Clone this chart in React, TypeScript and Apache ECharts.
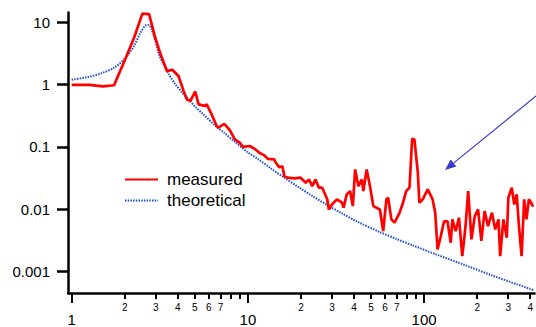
import React, { useEffect, useRef } from "react";
import * as echarts from "echarts";

// measured response: [frequency, amplitude]
const measured: [number, number][] = [
  [1.0, 0.98], [1.26, 0.98], [1.5, 0.93], [1.74, 0.97], [2.03, 2.68], [2.26, 5.6],
  [2.52, 13.6], [2.75, 13.4], [2.98, 5.6], [3.13, 3.64], [3.25, 2.68], [3.48, 1.63],
  [3.72, 1.72], [4.04, 1.36], [4.32, 0.78], [4.51, 0.575], [4.71, 0.54], [5.03, 0.77],
  [5.25, 0.478], [5.67, 0.452], [5.84, 0.478], [6.23, 0.33], [6.65, 0.215], [6.8, 0.202],
  [7.25, 0.229], [7.4, 0.229], [7.91, 0.183], [8.43, 0.131], [9.0, 0.116], [9.39, 0.1],
  [10.23, 0.103], [10.9, 0.093], [11.65, 0.08], [12.4, 0.073], [12.97, 0.064], [14.1, 0.063],
  [14.4, 0.0556], [15.1, 0.0468], [15.7, 0.049], [16.1, 0.0339], [16.8, 0.032], [18.3, 0.0312],
  [19.9, 0.032], [21.3, 0.0266], [22.2, 0.03], [23.2, 0.0234], [24.2, 0.03], [25.3, 0.0221],
  [26.4, 0.0221], [28.2, 0.0144], [28.8, 0.0099], [30.0, 0.0119], [32.0, 0.0144], [34.2, 0.0127],
  [34.9, 0.0106], [36.4, 0.0173], [38.0, 0.0195], [39.4, 0.0112], [40.6, 0.0434], [42.4, 0.0234],
  [44.3, 0.03], [45.2, 0.0195], [47.2, 0.0434], [49.3, 0.0234], [51.5, 0.0112], [56.1, 0.0099],
  [58.6, 0.00446], [61.1, 0.0144], [62.5, 0.0153], [65.2, 0.00687], [68.0, 0.0061], [72.6, 0.0088],
  [75.9, 0.0127], [79.1, 0.0195], [82.6, 0.0221], [85.5, 0.134], [88.1, 0.131], [92.1, 0.0385],
  [94.0, 0.0127], [98.2, 0.0144], [104.8, 0.0208], [111.7, 0.0144], [115.6, 0.0088], [119.2, 0.00227],
  [124.4, 0.0037], [129.8, 0.0064], [135.7, 0.0064], [141.6, 0.0029], [144.6, 0.00687], [151.0, 0.00446],
  [157.6, 0.0073], [164.7, 0.00177], [171.8, 0.00536], [177.9, 0.0195], [185.6, 0.00328], [193.8, 0.00776],
  [202.4, 0.0099], [211.2, 0.0031], [220.4, 0.0093], [230.4, 0.00536], [242.6, 0.0088], [253.3, 0.00475],
  [264.3, 0.00687], [270.1, 0.00177], [281.9, 0.00687], [294.5, 0.0035], [300.6, 0.0153], [314.2, 0.0221],
  [324.9, 0.0119], [335.2, 0.0173], [345.3, 0.00536], [357.4, 0.00177], [369.6, 0.0144], [381.0, 0.0069],
  [392.8, 0.0144], [403.3, 0.013], [415.0, 0.011],
];

// theoretical response: [frequency, amplitude]
const theoretical: [number, number][] = [
  [1.0, 1.19], [1.235, 1.309], [1.466, 1.5], [1.743, 1.852], [2.025, 2.68], [2.257, 4.11],
  [2.458, 6.74], [2.63, 8.82], [2.733, 8.98], [2.841, 7.61], [2.991, 4.89], [3.13, 3.03],
  [3.296, 2.17], [3.562, 1.446], [3.848, 1.04], [4.23, 0.744], [4.612, 0.575], [5.03, 0.436],
  [5.598, 0.33], [6.512, 0.22], [7.41, 0.164], [8.43, 0.1198], [10.0, 0.0813], [11.39, 0.064],
  [13.48, 0.0451], [16.09, 0.032], [19.1, 0.0232], [23.2, 0.0163], [28.15, 0.0117], [34.2, 0.00856],
  [41.5, 0.00637], [56.1, 0.0043], [69.6, 0.00334], [86.3, 0.00263], [116.7, 0.00189], [171.8, 0.00126],
  [242.6, 0.00087], [398.0, 0.00053], [423.0, 0.0005],
];

const yTicks = [0.001, 0.01, 0.1, 1, 10];
const xMajorTicks = [1, 10, 100];
const xMinorTicks = [2, 3, 4, 5, 6, 7, 8, 9, 20, 30, 40, 50, 60, 70, 80, 90, 200, 300, 400];
const xMinorLabels = [2, 3, 4, 5, 6, 7, 20, 30, 40, 50, 60, 70, 200, 300, 400];
const seriesNames = ["measured", "theoretical"];

const FONT = "'Liberation Sans', Arial, sans-serif";
const X_MIN = 0.9534;
const X_MAX = 423.2;
const Y_MIN = 0.000454;
const Y_MAX = 14.2;

export default function App() {
  const ref = useRef<HTMLDivElement>(null);
  useEffect(() => {
    if (!ref.current) return;
    const chart = echarts.init(ref.current, null, { renderer: "svg" });
    const minorFmt = (v: number) => {
      if (v < 10) return String(Math.round(v));
      if (v < 100) return String(Math.round(v / 10));
      return String(Math.round(v / 100));
    };
    chart.setOption({
      animation: false,
      backgroundColor: "#fff",
      textStyle: { fontFamily: FONT },
      grid: { left: 68, right: -4, top: 12.5, bottom: 34, containLabel: false },
      legend: {
        data: seriesNames,
        orient: "vertical",
        left: 124,
        top: 171,
        itemWidth: 33,
        itemHeight: 12,
        itemGap: 4,
        padding: 0,
        itemStyle: { opacity: 0 },
        textStyle: { fontSize: 17, color: "#000", fontFamily: FONT, padding: [0, 0, 0, 4] },
      },
      xAxis: [
        {
          type: "log",
          logBase: 10,
          min: X_MIN,
          max: X_MAX,
          axisLine: { show: true, lineStyle: { color: "#000", width: 2.5 } },
          axisTick: { show: true, customValues: xMajorTicks, length: 10, lineStyle: { color: "#000", width: 2 } },
          axisLabel: {
            customValues: xMajorTicks,
            fontSize: 15,
            color: "#000",
            margin: 19,
            fontFamily: FONT,
            formatter: (v: number) => String(Math.round(v)),
          },
          splitLine: { show: false },
          minorTick: { show: false },
        },
        {
          type: "log",
          logBase: 10,
          min: X_MIN,
          max: X_MAX,
          position: "bottom",
          axisLine: { show: false },
          axisTick: { show: true, customValues: xMinorTicks, length: 6, lineStyle: { color: "#000", width: 2 } },
          axisLabel: {
            customValues: xMinorLabels,
            fontSize: 10,
            color: "#000",
            margin: 9,
            hideOverlap: false,
            fontFamily: FONT,
            formatter: minorFmt,
          },
          splitLine: { show: false },
        },
      ],
      yAxis: {
        type: "log",
        logBase: 10,
        min: Y_MIN,
        max: Y_MAX,
        axisLine: { show: true, lineStyle: { color: "#000", width: 2.5 } },
        axisTick: { show: true, customValues: yTicks, length: 11, lineStyle: { color: "#000", width: 2.5 } },
        axisLabel: {
          customValues: yTicks,
          fontSize: 15,
          color: "#000",
          margin: 18,
          fontFamily: FONT,
          formatter: (v: number) => String(Number(v.toPrecision(2))),
        },
        splitLine: { show: false },
      },
      series: [
        {
          name: seriesNames[0],
          type: "line",
          data: measured,
          xAxisIndex: 0,
          symbol: "none",
          showSymbol: false,
          lineStyle: { color: "#ff0000", width: 2.7 },
          itemStyle: { color: "#ff0000" },
          z: 3,
        },
        {
          name: seriesNames[1],
          type: "line",
          data: theoretical,
          xAxisIndex: 0,
          symbol: "none",
          showSymbol: false,
          smooth: 0.3,
          lineStyle: { color: "#1f4fd0", width: 2, type: [1.5, 1.2] },
          itemStyle: { color: "#1f4fd0" },
          z: 2,
        },
      ],
      graphic: [
        {
          type: "line",
          shape: { x1: 538, y1: 94.4, x2: 453.5, y2: 163.1 },
          style: { stroke: "#3a3acf", lineWidth: 1.2 },
          z: 10,
        },
        {
          type: "polygon",
          shape: { points: [[445, 170], [456.3, 166.6], [453.8, 163.3], [450.7, 159.6]] },
          style: { fill: "#3a3acf", stroke: "none" },
          z: 10,
        },
      ],
    });
    return () => chart.dispose();
  }, []);
  return (
    <div
      ref={ref}
      style={{ position: "absolute", left: 0, top: 0, width: 536, height: 327, background: "#fff" }}
    />
  );
}
